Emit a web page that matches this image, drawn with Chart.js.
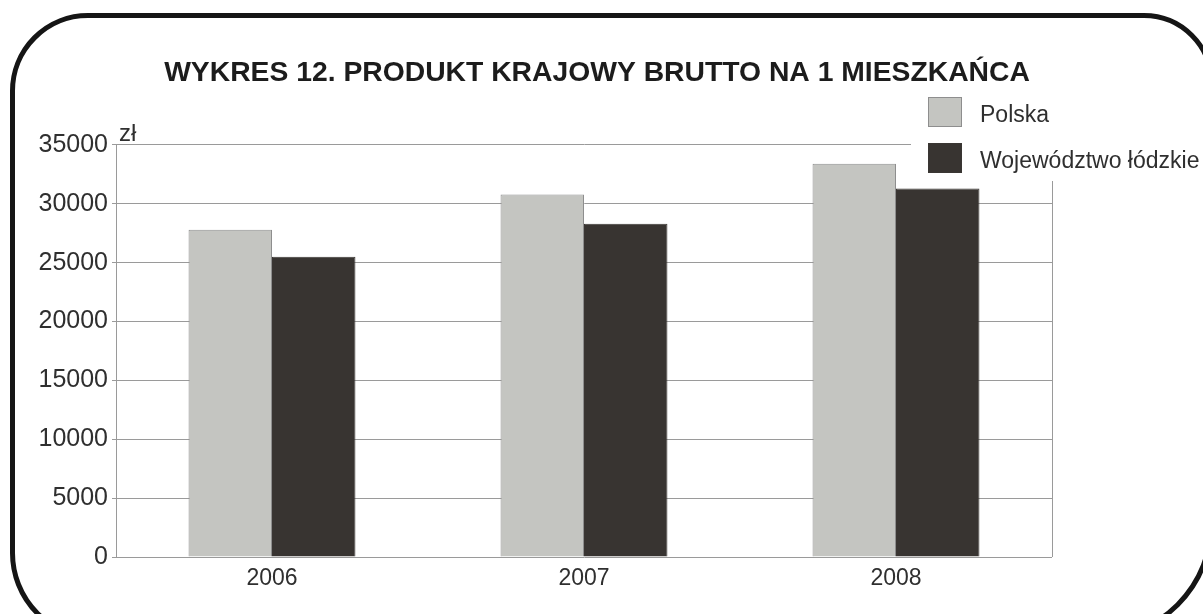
<!DOCTYPE html>
<html lang="pl">
<head>
<meta charset="utf-8">
<title>Wykres 12</title>
<script src="https://cdn.jsdelivr.net/npm/chart.js@4/dist/chart.umd.min.js"></script>
<style>
    html, body { margin: 0; padding: 0; background: #fff; overflow: hidden; }
    #wrap { position: relative; width: 1203px; height: 614px; }
    #frame {
        position: absolute; left: 10px; top: 13px; width: 1194px; height: 618px;
        border: 5px solid #151515;
        border-radius: 78px 70px 118px 88px;
        pointer-events: none;
    }
    #chart-box { position: absolute; left: 0; top: 0; width: 1203px; height: 614px; }
</style>
</head>
<body>
<div id="wrap">
    <div id="chart-box"><canvas id="gdpChart"></canvas></div>
    <div id="frame"></div>
</div>
<script>
// Data
const years = ['2006', '2007', '2008'];
const polska = [27800, 30800, 33400];
const lodzkie = [25500, 28300, 31300];
const seriesNames = ['Polska', 'Województwo łódzkie'];
const yTicks = [0, 5000, 10000, 15000, 20000, 25000, 30000, 35000];

const FONT = '"Liberation Sans", Arial, sans-serif';
const TEXT = '#2f2f2f';
const GRID = '#9a9a9a';

// Legend + unit label drawn over the top right corner of the plot
const overlayPlugin = {
    id: 'overlay',
    afterDraw(chart) {
        const ctx = chart.ctx;
        const area = chart.chartArea;
        ctx.save();

        // right edge of the plot frame
        ctx.strokeStyle = GRID;
        ctx.lineWidth = 1;
        ctx.beginPath();
        ctx.moveTo(area.right + 0.5, area.top);
        ctx.lineTo(area.right + 0.5, area.bottom);
        ctx.stroke();

        // legend background hides the grid behind it
        ctx.fillStyle = '#fff';
        ctx.fillRect(911, 92, 300, 89);

        ctx.font = '23px ' + FONT;
        ctx.textBaseline = 'middle';
        chart.data.datasets.forEach((ds, i) => {
            const top = 97 + i * 46;
            ctx.fillStyle = ds.backgroundColor;
            ctx.fillRect(928, top, 34, 30);
            ctx.strokeStyle = ds.borderColor;
            ctx.strokeRect(928.5, top + 0.5, 33, 29);
            ctx.fillStyle = TEXT;
            ctx.fillText(ds.label, 980, top + 19);
        });

        // unit
        ctx.font = '24px ' + FONT;
        ctx.textBaseline = 'alphabetic';
        ctx.fillStyle = TEXT;
        ctx.fillText('zł', 119, 141);
        ctx.restore();
    }
};

const ctx = document.getElementById('gdpChart').getContext('2d');
const gdpChart = new Chart(ctx, {
    type: 'bar',
    data: {
        labels: years,
        datasets: [{
            label: seriesNames[0],
            data: polska,
            backgroundColor: '#c4c5c1',
            borderColor: '#8e8e8e',
            borderWidth: 1,
            barPercentage: 1.0,
            categoryPercentage: 0.535
        }, {
            label: seriesNames[1],
            data: lodzkie,
            backgroundColor: '#383431',
            borderColor: '#3a3633',
            borderWidth: 1,
            barPercentage: 1.0,
            categoryPercentage: 0.535
        }]
    },
    options: {
        responsive: true,
        maintainAspectRatio: false,
        animation: false,
        layout: { padding: { left: 0, right: 9, top: 0, bottom: 0 } },
        plugins: {
            legend: { display: false },
            tooltip: { enabled: false },
            title: {
                display: true,
                text: 'WYKRES 12. PRODUKT KRAJOWY BRUTTO NA 1 MIESZKAŃCA',
                color: '#1c1c1c',
                font: { family: FONT, size: 28.3, weight: 'bold' },
                padding: { top: 56, bottom: 55 }
            }
        },
        scales: {
            x: {
                grid: { display: false, drawTicks: false },
                border: { display: false },
                ticks: {
                    color: TEXT,
                    font: { family: FONT, size: 23 },
                    padding: 8
                },
                afterFit: (scale) => { scale.height = 57; }
            },
            y: {
                min: 0,
                max: 35000,
                afterBuildTicks: (scale) => {
                    scale.ticks = yTicks.map(v => ({ value: v }));
                },
                grid: { color: GRID, lineWidth: 1, tickLength: 4, drawTicks: true },
                border: { color: GRID, width: 1 },
                ticks: {
                    color: TEXT,
                    font: { family: FONT, size: 25 },
                    padding: 4,
                    callback: (v) => String(v)
                },
                afterFit: (scale) => { scale.width = 116; }
            },
            // empty right axis, only reserves room for the legend column
            spacer: {
                position: 'right',
                display: true,
                grid: { display: false },
                border: { display: false },
                ticks: { display: false },
                afterFit: (scale) => { scale.width = 142; }
            }
        }
    },
    plugins: [overlayPlugin]
});
</script>
</body>
</html>
